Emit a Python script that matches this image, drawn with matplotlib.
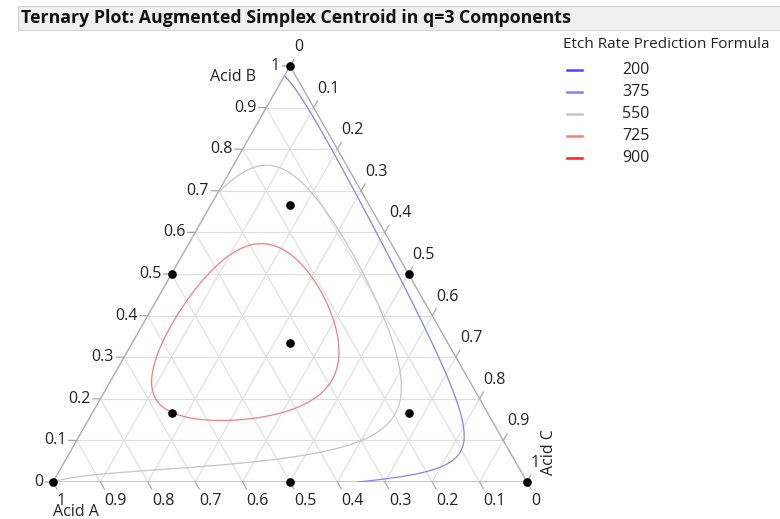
import numpy as np
import matplotlib
matplotlib.use("Agg")
import matplotlib.pyplot as plt
import matplotlib.tri as mtri
from matplotlib.patches import Rectangle
from matplotlib.lines import Line2D
from matplotlib.transforms import ScaledTranslation

plt.rcParams['font.family'] = ['Open Sans', 'Noto Sans', 'DejaVu Sans']

# Augmented simplex centroid design (fractions of Acid A, Acid B, Acid C)
design_a = [1, 0, 0, 0.5, 0.5, 0, 1/3, 2/3, 1/6, 1/6]
design_b = [0, 1, 0, 0.5, 0, 0.5, 1/3, 1/6, 2/3, 1/6]
design_c = [0, 0, 1, 0, 0.5, 0.5, 1/3, 1/6, 1/6, 2/3]

# Etch rate prediction formula, Scheffe cubic coefficients for
# A, B, C, AB, AC, BC, ABC, AB(A-B), AC(A-C), BC(B-C)
coef = [550, 357, 298, 657, -41, -64, 9419, 75, 56, 143]

levels = [200, 375, 550, 725, 900]
level_colors = ['#4646ff', '#8282f0', '#c4c4c4', '#ee8080', '#ff2020']
ticks = [0, 0.1, 0.2, 0.3, 0.4, 0.5, 0.6, 0.7, 0.8, 0.9, 1]
tick_labels = ['0', '0.1', '0.2', '0.3', '0.4', '0.5', '0.6', '0.7', '0.8', '0.9', '1']
components = ['Acid A', 'Acid B', 'Acid C']
legend_title = 'Etch Rate Prediction Formula'


def terms(a, b, c):
    return np.array([a, b, c, a*b, a*c, b*c, a*b*c,
                     a*b*(a-b), a*c*(a-c), b*c*(b-c)])


def to_xy(a, b, c):
    return c + b / 2.0, b


W, H = 780, 519
fig = plt.figure(figsize=(W / 100, H / 100), dpi=100)
x0, x1, ytop, ybot = 53, 527, 66, 482
ax = fig.add_axes([x0 / W, (H - ybot) / H, (x1 - x0) / W, (ybot - ytop) / H])
ax.set_xlim(0, 1)
ax.set_ylim(0, 1)
ax.axis('off')


def shifted(dx, dy):
    """Data transform followed by an offset given in pixels."""
    return ax.transData + ScaledTranslation(dx / 100, dy / 100, fig.dpi_scale_trans)


# title bar
fig.patches.append(Rectangle((18 / W, 1 - 30 / H), 1, 24 / H, transform=fig.transFigure,
                             facecolor='#f0f0f0', edgecolor='#d4d4d4', lw=0.8))
fig.text(21 / W, 1 - 18 / H, 'Ternary Plot: Augmented Simplex Centroid in q=3 Components',
         fontsize=12.8, fontweight='bold', va='center', ha='left', color='#111111')

# grid lines
grid_c = '#dddddd'
for k in ticks[1:-1]:
    ax.plot([k / 2, 1 - k / 2], [k, k], color=grid_c, lw=0.8, zorder=1)
    ax.plot([k, k + (1 - k) / 2], [0, 1 - k], color=grid_c, lw=0.8, zorder=1)
    ax.plot([1 - k, (1 - k) / 2], [0, 1 - k], color=grid_c, lw=0.8, zorder=1)
ax.plot([0, 1, 0.5, 0], [0, 0, 1, 0], color='#acacac', lw=1.0, zorder=2,
        solid_joinstyle='miter')

# ticks and tick labels on the three edges
tick_c = '#a8a8a8'
lab_c = '#222222'
fs = 11.5


def tick(x, y, dx, dy):
    ax.annotate('', xy=(x, y), xytext=(dx, dy), textcoords='offset pixels',
                arrowprops=dict(arrowstyle='-', color=tick_c, lw=0.9,
                                shrinkA=0, shrinkB=0))


for k, lab in zip(ticks, tick_labels):
    # Acid B: left edge, horizontal ticks
    px, py = to_xy(1 - k, k, 0)
    tick(px, py, -8, 0)
    ax.text(px, py, lab, transform=shifted(-10, 0), ha='right', va='center',
            fontsize=fs, color=lab_c)
    # Acid A: bottom edge, ticks slanting down-right
    qx, qy = to_xy(k, 0, 1 - k)
    tick(qx, qy, 4, -7)
    ax.text(qx, qy, lab, transform=shifted(4, -19), ha='left', va='center',
            fontsize=fs, color=lab_c)
    # Acid C: right edge, ticks slanting up-right
    rx, ry = to_xy(0, 1 - k, k)
    tick(rx, ry, 4, 7)
    ax.text(rx, ry, lab, transform=shifted(4, 19), ha='left', va='center',
            fontsize=fs, color=lab_c)

# component names
ax.text(*to_xy(0, 1, 0), components[1], transform=shifted(-57, -11),
        ha='center', va='center', fontsize=fs, color=lab_c)
ax.text(*to_xy(1, 0, 0), components[0], transform=shifted(23, -30),
        ha='center', va='center', fontsize=fs, color=lab_c)
ax.text(*to_xy(0, 0, 1), components[2], transform=shifted(22, 30),
        ha='center', va='center', fontsize=fs, color=lab_c, rotation=90)

# prediction formula contours over a fine simplex lattice
n = 160
pa, pb = [], []
for i in range(n + 1):
    for j in range(n + 1 - i):
        pa.append(i / n)
        pb.append(j / n)
pa = np.array(pa)
pb = np.array(pb)
pc = np.clip(1 - pa - pb, 0, 1)
X, Y = to_xy(pa, pb, pc)
tri = mtri.Triangulation(X, Y)
Z = np.asarray(coef) @ terms(pa, pb, pc)
ax.tricontour(tri, Z, levels=levels, colors=level_colors, linewidths=0.9, zorder=3)

# design points
dx, dy = to_xy(np.array(design_a), np.array(design_b), np.array(design_c))
ax.plot(dx, dy, 'o', color='black', ms=5.2, zorder=5, clip_on=False)

# legend
fig.text(563 / W, 1 - 44 / H, legend_title, fontsize=11, ha='left', va='center',
         color=lab_c)
for i, (lv, col) in enumerate(zip(levels, level_colors)):
    yy = 1 - (70 + 22 * i) / H
    fig.add_artist(Line2D([567 / W, 582 / W], [yy, yy], color=col, lw=1.8,
                          transform=fig.transFigure))
    fig.text(622 / W, yy, str(lv), fontsize=fs, ha='left', va='center', color=lab_c)

fig.savefig('out.png', dpi=100)
